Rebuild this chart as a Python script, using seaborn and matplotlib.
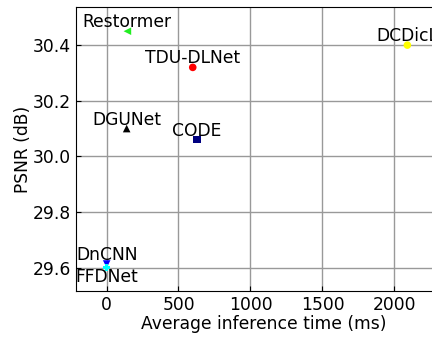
import matplotlib
matplotlib.use("Agg")
import matplotlib.pyplot as plt
import seaborn as sns
import pandas as pd

methods = ["Restormer", "TDU-DLNet", "DGUNet", "CODE", "DCDicL", "DnCNN", "FFDNet"]
time_ms = [145, 599, 140, 629, 2090, 1, 1]
psnr = [30.45, 30.32, 30.10, 30.06, 30.40, 29.613, 29.60]
colors = ["#22ee22", "red", "black", "navy", "yellow", "blue", "cyan"]
markers = ["<", "o", "^", "s", "o", "v", "P"]
label_pos = ["bottom", "bottom", "bottom", "bottom", "bottom", "bottom", "top"]

df = pd.DataFrame({"method": methods, "time": time_ms, "psnr": psnr})

plt.rcParams["font.family"] = ["DejaVu Sans"]
fig = plt.figure(figsize=(4.32, 3.37), dpi=100)
ax = fig.add_axes([76/432, 46/337, (452-76)/432, (291-7.3)/337])

sns.scatterplot(data=df, x="time", y="psnr", hue="method", style="method",
                palette=dict(zip(methods, colors)), markers=dict(zip(methods, markers)),
                s=30, linewidth=0, ax=ax, legend=False, zorder=3)

for m, x, y, va in zip(methods, time_ms, psnr, label_pos):
    ax.text(x, y, m, ha="center", va=va, fontsize=12.3, zorder=4)

ax.set_xlim(-212, 2400)
ax.set_ylim(29.516, 30.536)
ax.set_xticks([0, 500, 1000, 1500, 2000])
ax.set_yticks([29.6, 29.8, 30.0, 30.2, 30.4])
ax.set_yticklabels(["29.6", "29.8", "30.0", "30.2", "30.4"])
ax.grid(True, color="#999999", linewidth=1)
ax.set_axisbelow(True)
ax.tick_params(direction="in", labelsize=12.3)
ax.set_xlabel("Average inference time (ms)", fontsize=12.3, labelpad=0.5)
ax.set_ylabel("PSNR (dB)", fontsize=12.3, labelpad=0.5)

fig.savefig("out.png", dpi=100)
